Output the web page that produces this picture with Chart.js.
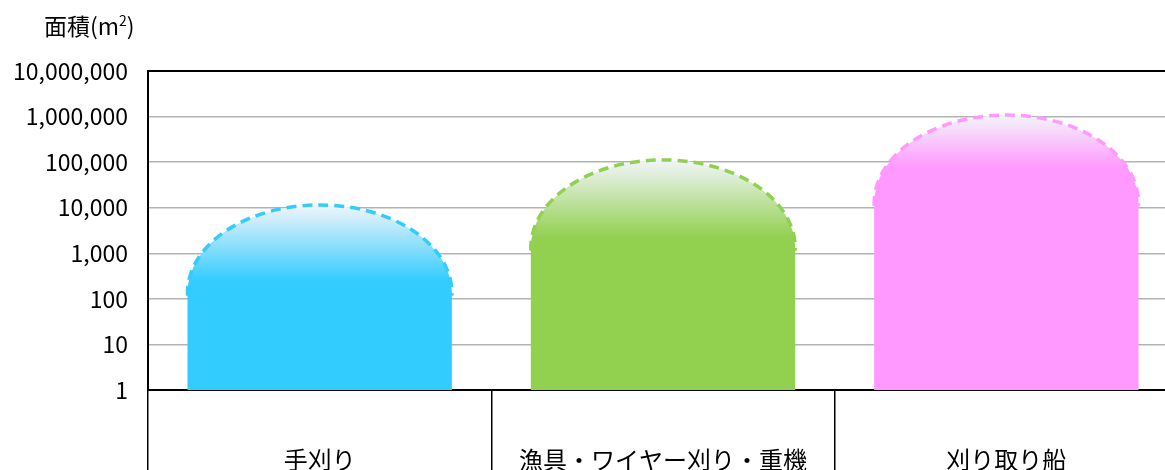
<!DOCTYPE html>
<html lang="ja">
<head>
<meta charset="utf-8">
<script src="https://cdn.jsdelivr.net/npm/chart.js@4/dist/chart.umd.min.js"></script>
<style>
  html, body { margin: 0; padding: 0; background: #fff; overflow: hidden; width: 1165px; height: 470px; }
  #wrap { position: relative; width: 1190px; height: 470px; }
  #ytitle { position: absolute; left: 44px; top: 13px; font-family: "Noto Sans CJK JP", sans-serif; font-size: 23px; line-height: 24px; color: #000; white-space: nowrap; }
  #ytitle sup { font-size: 14px; vertical-align: 9px; line-height: 0; }
  canvas { display: block; }
</style>
</head>
<body>
<div id="wrap">
  <canvas id="c" width="1190" height="470"></canvas>
  <div id="ytitle">面積(m<sup>2</sup>)</div>
</div>
<script>
// ---- data ----
const categories = ['手刈り', '漁具・ワイヤー刈り・重機', '刈り取り船'];
const areaValues = [11500, 112000, 1080000];
const yTickValues = [1, 10, 100, 1000, 10000, 100000, 1000000, 10000000];
const yTickLabels = ['1', '10', '100', '1,000', '10,000', '100,000', '1,000,000', '10,000,000'];

// ---- styles ----
const FONT = '"Noto Sans CJK JP", "Noto Sans", sans-serif';
const barColors = ['#33ccff', '#92d050', '#ff99ff'];

const domePlugin = {
  id: 'dome',
  afterDatasetsDraw(chart, args, opts) {
    const ctx = chart.ctx;
    const area = chart.chartArea;
    const meta = chart.getDatasetMeta(0);
    ctx.save();
    ctx.beginPath();
    ctx.rect(area.left, area.top, area.right - area.left, area.bottom - area.top);
    ctx.clip();
    meta.data.forEach((bar, i) => {
      const p = bar.getProps(['x', 'y', 'base', 'width'], true);
      const rx = p.width / 2;
      const ry = Math.min(opts.domeHeight, p.base - p.y);
      const cy = p.y + ry;
      const left = p.x - rx, right = p.x + rx;
      const g = ctx.createLinearGradient(0, p.y, 0, cy);
      g.addColorStop(0, opts.topColor);
      g.addColorStop(opts.fade[i], opts.colors[i]);
      g.addColorStop(1, opts.colors[i]);
      ctx.beginPath();
      ctx.moveTo(left, p.base);
      ctx.lineTo(left, cy);
      ctx.ellipse(p.x, cy, rx, ry, 0, Math.PI, 2 * Math.PI);
      ctx.lineTo(right, p.base);
      ctx.closePath();
      ctx.fillStyle = g;
      ctx.fill();
      ctx.beginPath();
      ctx.ellipse(p.x, cy, rx, ry, 0, Math.PI * 0.99, Math.PI * 2.01);
      ctx.setLineDash(opts.dash);
      ctx.lineWidth = 3.5;
      ctx.strokeStyle = opts.colors[i];
      ctx.stroke();
      ctx.setLineDash([]);
    });
    ctx.restore();
  }
};

new Chart(document.getElementById('c'), {
  type: 'bar',
  data: {
    labels: categories,
    datasets: [{
      data: areaValues,
      backgroundColor: 'rgba(0,0,0,0)',
      borderWidth: 0,
      barPercentage: 1,
      categoryPercentage: 0.77
    }]
  },
  options: {
    responsive: false,
    animation: false,
    devicePixelRatio: 1,
    layout: { padding: { top: 71, right: 12, left: 0, bottom: 0 } },
    plugins: {
      legend: { display: false },
      tooltip: { enabled: false },
      dome: {
        domeHeight: 88,
        topColor: '#f2f5fa',
        fade: [0.86, 0.88, 0.6],
        colors: barColors,
        dash: [10, 6]
      }
    },
    scales: {
      x: {
        type: 'category',
        offset: true,
        grid: { offset: true, drawOnChartArea: false, drawTicks: true, tickLength: 80, color: '#000', lineWidth: 1.5 },
        border: { color: '#000', width: 2 },
        ticks: { font: { family: FONT, size: 24 }, color: '#000', padding: -25, maxRotation: 0, autoSkip: false },
        afterFit: s => { s.height = 80; }
      },
      y: {
        type: 'logarithmic',
        min: 1,
        max: 10000000,
        afterBuildTicks: s => { s.ticks = yTickValues.map(v => ({ value: v })); },
        ticks: {
          autoSkip: false,
          padding: 20,
          color: '#000',
          font: { family: FONT, size: 23 },
          callback: v => yTickLabels[yTickValues.indexOf(v)]
        },
        grid: {
          drawTicks: false,
          color: c => (c.tick && c.tick.value === 10000000) ? '#000' : '#b3b3b3',
          lineWidth: c => (c.tick && c.tick.value === 10000000) ? 2 : 1.5
        },
        border: { color: '#000', width: 2 },
        afterFit: s => { s.width = 148; }
      }
    }
  },
  plugins: [domePlugin]
});
</script>
</body>
</html>
